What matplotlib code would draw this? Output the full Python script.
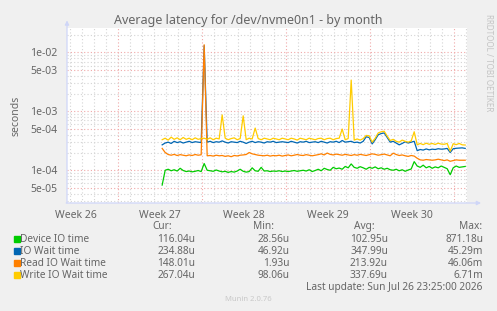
#!/usr/bin/env python3
"""Munin style chart: average latency for /dev/nvme0n1, month view."""
import numpy as np
import matplotlib.pyplot as plt
from matplotlib.ticker import FixedLocator, NullFormatter

plt.rcParams["font.family"] = ["Noto Sans", "DejaVu Sans"]

# ------------------------------------------------------------
# data (microseconds), one sample every 6 hours
# ------------------------------------------------------------
start_day = -25.4      # days before "now"
step_day = 0.25

device_io = [56, 100, 104, 98, 102, 97, 108, 99, 95, 97, 94, 96, 99, 95, 130,
             100, 98, 96, 101, 97, 94, 96, 92, 95, 93, 97, 104, 96, 93, 95,
             110, 98, 96, 112, 97, 98, 95, 97, 96, 98, 95, 97, 95, 97, 99,
             96, 98, 100, 97, 102, 95, 99, 104, 98, 108, 103, 100, 112, 106, 109,
             104, 116, 110, 128, 112, 108, 115, 110, 104, 112, 108, 114, 106, 110, 104,
             108, 102, 100, 104, 98, 102, 96, 101, 105, 140, 118, 112, 122, 110, 116,
             108, 114, 110, 118, 112, 106, 84, 110, 118, 112, 114, 116]

io_wait = [270, 290, 300, 285, 310, 295, 305, 290, 300, 310, 295, 305, 300, 295, 13000,
           300, 310, 295, 305, 300, 315, 300, 290, 305, 300, 295, 310, 300, 285, 300,
           310, 295, 305, 300, 290, 305, 300, 310, 295, 300, 305, 300, 295, 310, 300,
           290, 305, 300, 310, 295, 300, 305, 295, 310, 300, 290, 305, 300, 310, 295,
           320, 300, 305, 310, 295, 300, 290, 310, 370, 360, 280, 330, 400, 420, 430,
           360, 300, 310, 290, 270, 285, 305, 290, 300, 310, 215, 225, 220, 230, 222,
           228, 225, 232, 228, 230, 235, 200, 232, 236, 238, 240, 235]

read_wait = [235, 200, 185, 180, 186, 178, 184, 180, 176, 182, 178, 185, 180, 183, 13500,
             176, 178, 174, 180, 176, 178, 172, 176, 170, 178, 175, 180, 182, 185, 200,
             190, 185, 180, 178, 176, 180, 174, 178, 176, 180, 174, 178, 182, 176, 180,
             185, 180, 178, 184, 180, 176, 180, 184, 190, 182, 196, 186, 182, 188, 184,
             180, 186, 182, 178, 184, 180, 186, 182, 178, 184, 190, 186, 180, 184, 188,
             182, 176, 195, 185, 178, 182, 176, 172, 178, 174, 160, 150, 148, 152, 150,
             148, 150, 154, 150, 146, 150, 142, 146, 150, 148, 148, 148]

write_wait = [330, 350, 325, 365, 335, 355, 330, 360, 335, 350, 330, 355, 335, 345, 350,
              335, 355, 330, 350, 340, 870, 350, 330, 345, 355, 330, 345, 840, 330, 350,
              340, 520, 345, 330, 350, 340, 330, 350, 340, 330, 350, 340, 330, 350, 340,
              325, 350, 340, 330, 350, 340, 330, 345, 350, 330, 345, 350, 330, 345, 350,
              500, 330, 345, 3400, 325, 340, 325, 345, 390, 385, 300, 350, 430, 450, 460,
              380, 320, 335, 310, 300, 325, 310, 300, 315, 450, 270, 285, 272, 288, 276,
              285, 274, 288, 278, 276, 285, 210, 282, 272, 285, 270, 268]

series_names = ["Device IO time", "IO Wait time", "Read IO Wait time", "Write IO Wait time"]
series_colors = ["#00CC00", "#0066B3", "#FF8000", "#FFCC00"]
cur_vals = ["116.04u", "234.88u", "148.01u", "267.04u"]
min_vals = ["28.56u", "46.92u", "1.93u", "98.06u"]
avg_vals = ["102.95u", "347.99u", "213.92u", "337.69u"]
max_vals = ["871.18u", "45.29m", "46.06m", "6.71m"]

week_labels = ["Week 26", "Week 27", "Week 28", "Week 29", "Week 30"]
week_bounds = [-29.1, -22.1, -15.1, -8.1, -1.1]   # days before now
span_days = 33.33

# ------------------------------------------------------------
# figure
# ------------------------------------------------------------
W, H = 497, 311
fig = plt.figure(figsize=(W / 100, H / 100), dpi=100, facecolor="#F0F0F0")
ax = fig.add_axes([67 / W, (H - 203) / H, 400 / W, 175 / H])
ax.set_facecolor("white")

FONT = "#666666"
minor_grid = "#D4D4D4"
major_grid = "#F0A8A8"

ax.set_yscale("log")
ax.set_xlim(-span_days, 0)
ax.set_ylim(2.78e-5, 2.6e-2)

# grid: days (minor) and weeks (major)
day_lines = np.arange(week_bounds[-1] + 1, -span_days, -1.0)
for d in day_lines:
    if any(abs(d - w) < 1e-6 for w in week_bounds):
        continue
    ax.axvline(d, color=minor_grid, lw=0.8, ls=(0, (1, 2)), zorder=1)
for w in week_bounds:
    ax.axvline(w, color=major_grid, lw=0.8, ls=(0, (1, 2)), zorder=1)

for dec in [1e-5, 1e-4, 1e-3, 1e-2]:
    for m in range(1, 10):
        v = m * dec
        if v < 2.78e-5 or v > 2.6e-2:
            continue
        if m in (1, 5):
            ax.axhline(v, color=major_grid, lw=0.8, ls=(0, (1, 2)), zorder=1)
        else:
            ax.axhline(v, color=minor_grid, lw=0.8, ls=(0, (1, 2)), zorder=1)

# series
t = start_day + step_day * np.arange(len(device_io))
for vals, col in zip([device_io, io_wait, read_wait, write_wait], series_colors):
    ax.plot(t, np.array(vals) * 1e-6, color=col, lw=0.9, zorder=3)

# axes styling
for s in ax.spines.values():
    s.set_visible(False)
axis_col = "#CFD6F8"
ax.annotate("", xy=(-span_days, 3.9e-2), xytext=(-span_days, 2.5e-5),
            xycoords="data", arrowprops=dict(arrowstyle="-|>", color=axis_col, lw=0.9,
                                             mutation_scale=6), annotation_clip=False)
ax.annotate("", xy=(1.4, 2.78e-5), xytext=(-span_days - 0.3, 2.78e-5),
            xycoords="data", arrowprops=dict(arrowstyle="-|>", color=axis_col, lw=0.9,
                                             mutation_scale=6), annotation_clip=False)

yt = [5e-5, 1e-4, 5e-4, 1e-3, 5e-3, 1e-2]
ax.yaxis.set_major_locator(FixedLocator(yt))
ax.set_yticklabels(["5e-05", "1e-04", "5e-04", "1e-03", "5e-03", "1e-02"])
ax.yaxis.set_minor_formatter(NullFormatter())
ax.tick_params(axis="y", which="both", length=0, labelsize=7.5, labelcolor=FONT, pad=7)

week_mid = [w - 3.5 for w in week_bounds]
ax.set_xticks(week_mid)
ax.set_xticklabels(week_labels)
ax.tick_params(axis="x", length=0, labelsize=7.5, labelcolor=FONT, pad=5)

ax.set_ylabel("seconds", color=FONT, fontsize=7.5, labelpad=6)
fig.text(0.5, 1 - 24 / H, "Average latency for /dev/nvme0n1 - by month",
         ha="center", va="baseline", color=FONT, fontsize=9)
fig.text(489 / W, 1 - 14 / H, "RRDTOOL / TOBI OETIKER", rotation=270, ha="center",
         va="top", color="#C4C4C4", fontsize=5.8)

# legend block
fs = 7.3
hdr_y = 229
for x, txt in [(162, "Cur:"), (263, "Min:"), (364, "Avg:"), (471, "Max:")]:
    fig.text(x / W, 1 - hdr_y / H, txt, ha="center", va="baseline", color=FONT, fontsize=fs)

row_y = [242, 254, 266, 278]
for i, name in enumerate(series_names):
    y = 1 - row_y[i] / H
    fig.patches.append(plt.Rectangle((14 / W, y), 6 / W, 6 / H,
                                     transform=fig.transFigure, color=series_colors[i]))
    fig.text(20.5 / W, y, name, ha="left", va="baseline", color=FONT, fontsize=fs)
    fig.text(195 / W, y, cur_vals[i], ha="right", va="baseline", color=FONT, fontsize=fs)
    fig.text(290 / W, y, min_vals[i], ha="right", va="baseline", color=FONT, fontsize=fs)
    fig.text(388 / W, y, avg_vals[i], ha="right", va="baseline", color=FONT, fontsize=fs)
    fig.text(483 / W, y, max_vals[i], ha="right", va="baseline", color=FONT, fontsize=fs)

fig.text(482 / W, 1 - 290 / H, "Last update: Sun Jul 26 23:25:00 2026", ha="right",
         va="baseline", color=FONT, fontsize=fs)
fig.text(248 / W, 1 - 301 / H, "Munin 2.0.76", ha="center", va="baseline",
         color="#C8C8C8", fontsize=5.5)

fig.savefig("out.png", dpi=100, facecolor=fig.get_facecolor())
